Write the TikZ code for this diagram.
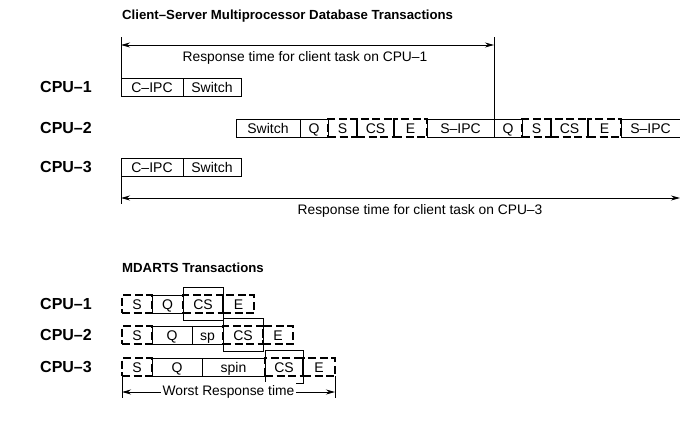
\documentclass[tikz,border=0pt]{standalone}
\usepackage{fontspec}
\setmainfont{Liberation Sans}
\usetikzlibrary{positioning,arrows.meta}

\tikzset{
	seg/.style={draw, line width=0.7pt, minimum height=18pt, inner sep=0pt, outer sep=0pt, text height=10pt, text depth=0pt, font=\fontsize{14}{16}\selectfont},
	crit/.style={seg, line width=2pt, dash pattern=on 8pt off 3.5pt},
	hold/.style={draw, line width=0.5pt, minimum height=33pt, inner sep=0pt, outer sep=0pt},
	cpu/.style={anchor=west, inner sep=0pt, font=\fontsize{16}{18}\bfseries},
	head/.style={anchor=west, inner sep=0pt, font=\fontsize{13.2}{16}\bfseries},
	span/.style={line width=0.8pt, {Stealth[length=9pt,width=5pt]}-{Stealth[length=9pt,width=5pt]}},
	note/.style={font=\fontsize{13.8}{16}\selectfont}
}

\begin{document}
\begin{tikzpicture}[x=1pt, y=-1pt]
	\useasboundingbox (0,0) rectangle (680,423);

	% client-server part
	\node[head] (cstitle) at (122,16) {Client--Server Multiprocessor Database Transactions};

	\node[cpu] (cpuA1) at (40,87) {CPU--1};
	\node[cpu] (cpuA2) at (40,128) {CPU--2};
	\node[cpu] (cpuA3) at (40,167) {CPU--3};

	\node[seg, minimum width=62pt, anchor=west] (a1ipc) at (121,87) {C--IPC};
	\node[seg, minimum width=58pt, right=0pt of a1ipc] (a1sw) {Switch};

	\node[seg, minimum width=64pt, anchor=west] (a2sw) at (236,128) {Switch};
	\node[seg, minimum width=28pt, right=0pt of a2sw] (a2q) {Q};
	\node[crit, minimum width=29pt, right=0pt of a2q] (a2s) {S};
	\node[crit, minimum width=37pt, right=0pt of a2s] (a2cs) {CS};
	\node[crit, minimum width=33pt, right=0pt of a2cs] (a2e) {E};
	\node[seg, minimum width=67pt, right=0pt of a2e] (a2ipc) {S--IPC};
	\node[seg, minimum width=28pt, right=0pt of a2ipc] (a2qb) {Q};
	\node[crit, minimum width=29pt, right=0pt of a2qb] (a2sb) {S};
	\node[crit, minimum width=37pt, right=0pt of a2sb] (a2csb) {CS};
	\node[crit, minimum width=33pt, right=0pt of a2csb] (a2eb) {E};
	\node[seg, minimum width=59pt, right=0pt of a2eb] (a2ipcb) {S--IPC};

	\node[seg, minimum width=62pt, anchor=west] (a3ipc) at (121,167) {C--IPC};
	\node[seg, minimum width=58pt, right=0pt of a3ipc] (a3sw) {Switch};

	\coordinate (tA1) at (121,37);
	\coordinate (tB1) at (494,37);
	\coordinate (sA1) at (121,45);
	\coordinate (sB1) at (494,45);
	\draw[line width=0.7pt] (tA1) -- (a1ipc.north west);
	\draw[line width=0.7pt] (tB1) -- (a2ipc.north east);
	\draw[span] (sA1) -- (sB1);
	\node[note] (resp1) at (305,58) {Response time for client task on CPU--1};

	\coordinate (tA3) at (121,204);
	\coordinate (sA3) at (121,198);
	\coordinate (sB3) at (680,198);
	\draw[line width=0.7pt] (a3ipc.south west) -- (tA3);
	\draw[span] (sA3) -- (sB3);
	\node[note] (resp3) at (420,211) {Response time for client task on CPU--3};

	% MDARTS part
	\node[head] (mdtitle) at (122,268) {MDARTS Transactions};

	\node[cpu] (cpuB1) at (40,304) {CPU--1};
	\node[cpu] (cpuB2) at (40,335) {CPU--2};
	\node[cpu] (cpuB3) at (40,367) {CPU--3};

	\node[crit, minimum width=30pt, anchor=west] (b1s) at (122,304) {S};
	\node[seg, minimum width=31pt, right=0pt of b1s] (b1q) {Q};
	\node[crit, minimum width=40pt, right=0pt of b1q] (b1cs) {CS};
	\node[crit, minimum width=31pt, right=0pt of b1cs] (b1e) {E};
	\node[hold, minimum width=40pt] (b1lock) at (b1cs) {};

	\node[crit, minimum width=30pt, anchor=west] (b2s) at (122,335) {S};
	\node[seg, minimum width=40pt, right=0pt of b2s] (b2q) {Q};
	\node[seg, minimum width=31pt, right=0pt of b2q] (b2sp) {sp};
	\node[crit, minimum width=40pt, right=0pt of b2sp] (b2cs) {CS};
	\node[crit, minimum width=30pt, right=0pt of b2cs] (b2e) {E};
	\node[hold, minimum width=40pt] (b2lock) at (b2cs) {};

	\node[crit, minimum width=30pt, anchor=west] (b3s) at (122,367) {S};
	\node[seg, minimum width=50pt, right=0pt of b3s] (b3q) {Q};
	\node[seg, minimum width=63pt, right=0pt of b3q] (b3spin) {spin};
	\node[crit, minimum width=38pt, right=0pt of b3spin] (b3cs) {CS};
	\node[crit, minimum width=32pt, right=0pt of b3cs] (b3e) {E};
	\node[hold, minimum width=38pt] (b3lock) at (b3cs) {};

	\coordinate (tA4) at (122,398);
	\coordinate (tB4) at (335,398);
	\coordinate (sA4) at (122,392);
	\coordinate (sB4) at (335,392);
	\draw[line width=0.7pt] (b3s.south west) -- (tA4);
	\draw[line width=0.7pt] (b3e.south east) -- (tB4);
	\draw[span] (sA4) -- node[note, fill=white, inner xsep=2pt] (worst) {Worst Response time} (sB4);
\end{tikzpicture}
\end{document}
